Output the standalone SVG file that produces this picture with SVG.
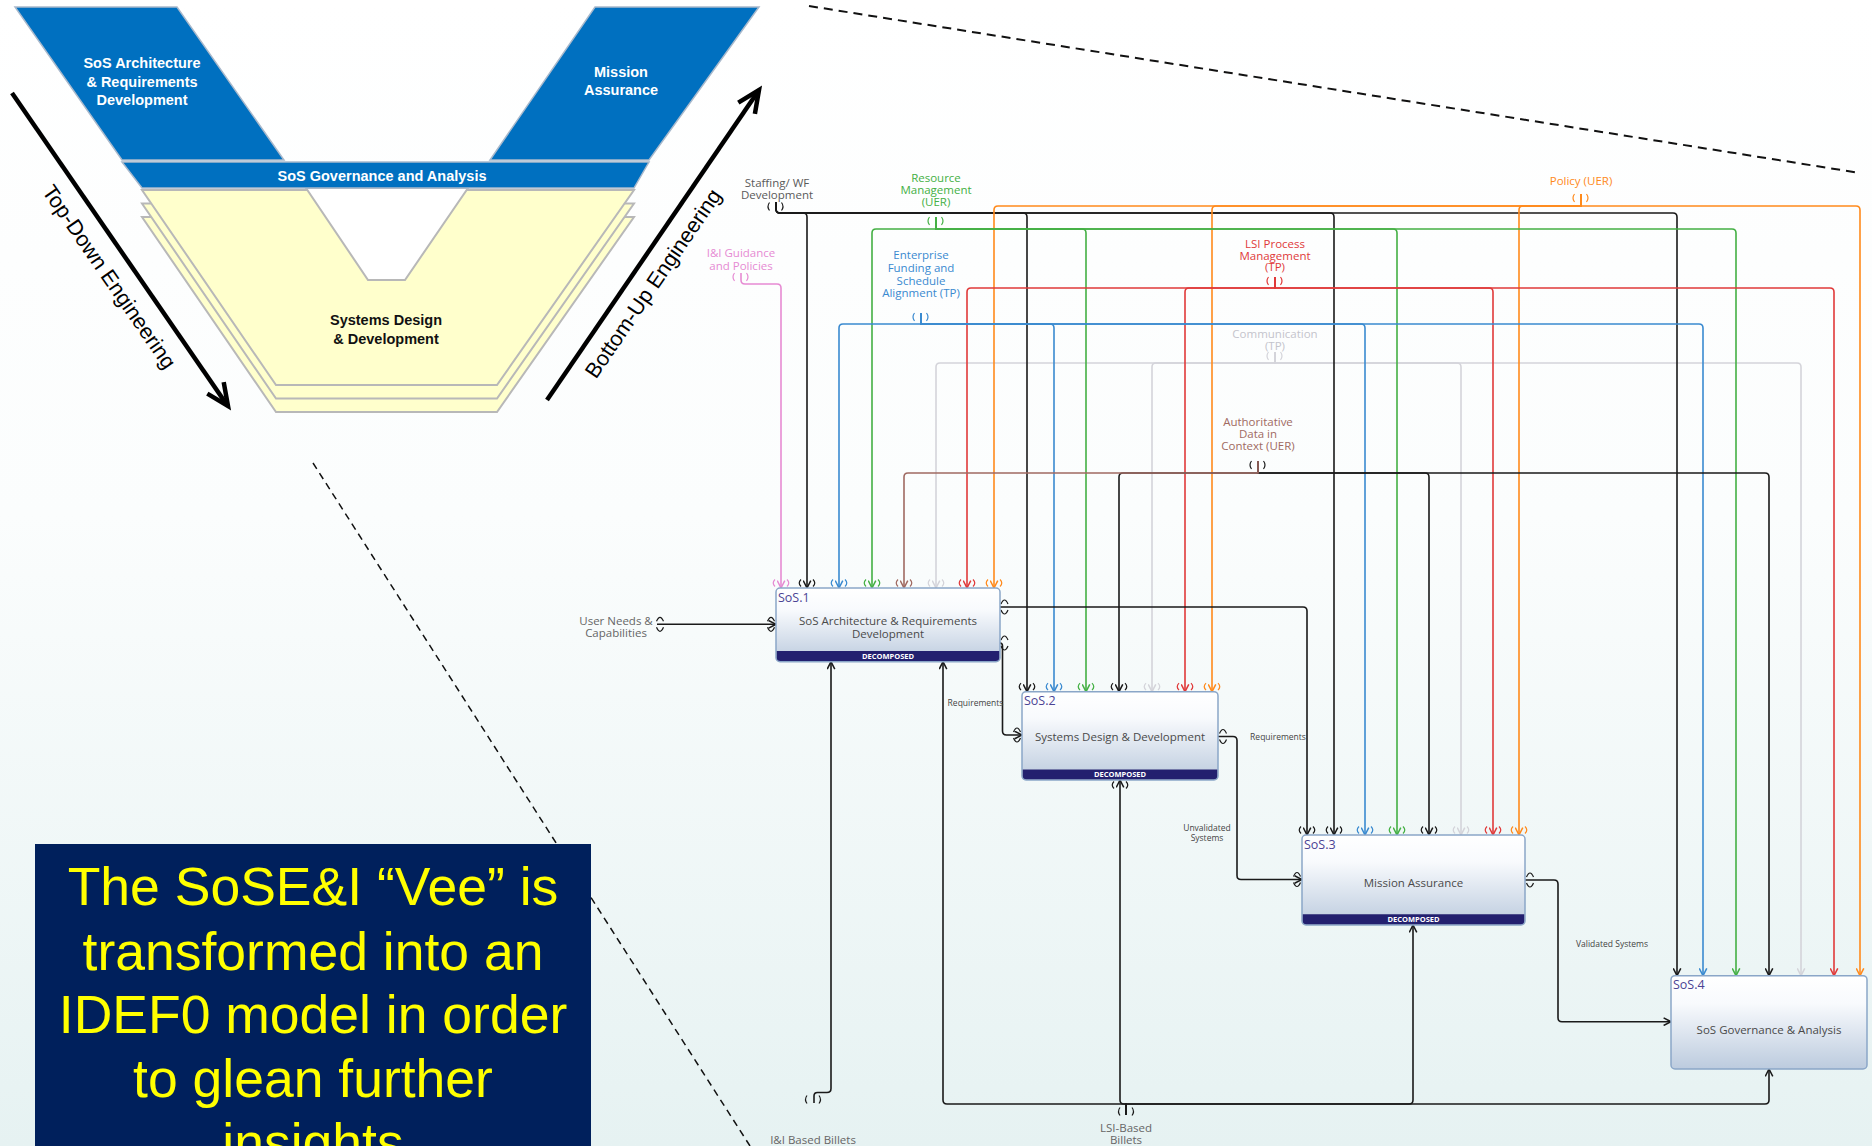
<svg xmlns="http://www.w3.org/2000/svg" xmlns:xlink="http://www.w3.org/1999/xlink" width="1872" height="1146" viewBox="0 0 1872 1146">
<defs>
<linearGradient id="bg" x1="0" y1="0" x2="0" y2="1">
<stop offset="0" stop-color="#ffffff"/><stop offset="0.45" stop-color="#fbfdfd"/><stop offset="1" stop-color="#e6f2f2"/>
</linearGradient>
<linearGradient id="boxg" x1="0" y1="0" x2="0" y2="1">
<stop offset="0" stop-color="#ffffff"/><stop offset="0.3" stop-color="#f8fafd"/><stop offset="1" stop-color="#bccbde"/>
</linearGradient>
<marker id="mk" viewBox="0 0 10 10" refX="9" refY="5" markerWidth="9" markerHeight="9" markerUnits="userSpaceOnUse" orient="auto"><path d="M0.8,0.8 L9,5 L0.8,9.2" fill="none" stroke="#1a1a1a" stroke-width="1.7"/></marker>
<marker id="mp" viewBox="0 0 10 10" refX="9" refY="5" markerWidth="9" markerHeight="9" markerUnits="userSpaceOnUse" orient="auto"><path d="M0.8,0.8 L9,5 L0.8,9.2" fill="none" stroke="#e68bd3" stroke-width="1.7"/></marker>
<marker id="mb" viewBox="0 0 10 10" refX="9" refY="5" markerWidth="9" markerHeight="9" markerUnits="userSpaceOnUse" orient="auto"><path d="M0.8,0.8 L9,5 L0.8,9.2" fill="none" stroke="#3a8ad0" stroke-width="1.7"/></marker>
<marker id="mg" viewBox="0 0 10 10" refX="9" refY="5" markerWidth="9" markerHeight="9" markerUnits="userSpaceOnUse" orient="auto"><path d="M0.8,0.8 L9,5 L0.8,9.2" fill="none" stroke="#44b044" stroke-width="1.7"/></marker>
<marker id="mn" viewBox="0 0 10 10" refX="9" refY="5" markerWidth="9" markerHeight="9" markerUnits="userSpaceOnUse" orient="auto"><path d="M0.8,0.8 L9,5 L0.8,9.2" fill="none" stroke="#a06a62" stroke-width="1.7"/></marker>
<marker id="my" viewBox="0 0 10 10" refX="9" refY="5" markerWidth="9" markerHeight="9" markerUnits="userSpaceOnUse" orient="auto"><path d="M0.8,0.8 L9,5 L0.8,9.2" fill="none" stroke="#d4d4da" stroke-width="1.7"/></marker>
<marker id="mr" viewBox="0 0 10 10" refX="9" refY="5" markerWidth="9" markerHeight="9" markerUnits="userSpaceOnUse" orient="auto"><path d="M0.8,0.8 L9,5 L0.8,9.2" fill="none" stroke="#e03a3a" stroke-width="1.7"/></marker>
<marker id="mo" viewBox="0 0 10 10" refX="9" refY="5" markerWidth="9" markerHeight="9" markerUnits="userSpaceOnUse" orient="auto"><path d="M0.8,0.8 L9,5 L0.8,9.2" fill="none" stroke="#ff8a1c" stroke-width="1.7"/></marker>
<path id="tp" d="M-6,-8.5 Q-9.5,-5 -6,-1.5 M6,-8.5 Q9.5,-5 6,-1.5"/>
<path id="tb" d="M-6,1.5 Q-9.5,5 -6,8.5 M6,1.5 Q9.5,5 6,8.5"/>
<path id="ts" d="M-6.5,-4 Q-9.5,0 -6.5,4 M5.5,-4 Q8.5,0 5.5,4"/>
<path id="th" d="M-3.5,-3 Q0,-11 3.5,-3 M-3.5,3 Q0,11 3.5,3"/>
<style>
.c{fill:none;stroke-width:1.6}
.k{stroke:#1a1a1a}.p{stroke:#e68bd3}.b{stroke:#3a8ad0}.g{stroke:#44b044}.n{stroke:#a06a62}.y{stroke:#d4d4da}.r{stroke:#e03a3a}.o{stroke:#ff8a1c}
.ak{marker-end:url(#mk)}.ap{marker-end:url(#mp)}.ab{marker-end:url(#mb)}.ag{marker-end:url(#mg)}.an{marker-end:url(#mn)}.ay{marker-end:url(#my)}.ar{marker-end:url(#mr)}.ao{marker-end:url(#mo)}
.tun{fill:none;stroke-width:1.2}
.lbl{font-family:"Open Sans","DejaVu Sans",sans-serif;font-size:11.5px;text-anchor:middle}
.sml{font-family:"Open Sans","DejaVu Sans",sans-serif;font-size:8.5px;text-anchor:middle;fill:#444}
.box{fill:url(#boxg);stroke:#8aa6c8;stroke-width:1.5}
.band{fill:#23206f}
.sid{font-family:"Open Sans","DejaVu Sans",sans-serif;font-size:12.5px;fill:#4b4394}
.bt{font-family:"Open Sans","DejaVu Sans",sans-serif;font-size:11.5px;fill:#4a4a4a;text-anchor:middle}
.dec{font-family:"Open Sans","DejaVu Sans",sans-serif;font-size:7.5px;font-weight:bold;fill:#ffffff;text-anchor:middle}
.yl{fill:#ffffcc;stroke:#b8b8b8;stroke-width:2}
.bl{fill:#0070c0;stroke:#a9b9cc;stroke-width:1.5}
.vt{font-family:"Liberation Sans",Arial,sans-serif;font-size:14.5px;font-weight:bold;fill:#ffffff;text-anchor:middle}
.vtk{font-family:"Liberation Sans",Arial,sans-serif;font-size:14.5px;font-weight:bold;fill:#111111;text-anchor:middle}
.eng{font-family:"Liberation Sans",Arial,sans-serif;font-size:21.5px;fill:#000000;text-anchor:middle}
.big{font-family:"Liberation Sans",Arial,sans-serif;font-size:53.5px;fill:#ffff00;text-anchor:middle}
</style>
</defs>
<rect x="0" y="0" width="1872" height="1146" fill="url(#bg)"/>

<g id="vee">
<polygon class="yl" points="142,217 634,217 497,412 276,412"/>
<polygon class="yl" points="142,203.5 634,203.5 497,398.5 276,398.5"/>
<polygon class="yl" points="142,190 634,190 497,385 276,385"/>
<polygon points="306,188 468,188 405,280 368,280" fill="#ffffff" stroke="#b8b8b8" stroke-width="2"/>
<polygon class="bl" points="15,7 177,7 284,160 122,160"/>
<polygon class="bl" points="595,7 759,7 649,160 490,160"/>
<polygon class="bl" points="122,162 649,162 634,188 142,188"/>
<text class="vt" x="142" y="68.3">SoS Architecture</text>
<text class="vt" x="142" y="86.6">&amp; Requirements</text>
<text class="vt" x="142" y="104.9">Development</text>
<text class="vt" x="621" y="77">Mission</text>
<text class="vt" x="621" y="95">Assurance</text>
<text class="vt" x="382" y="180.5">SoS Governance and Analysis</text>
<text class="vtk" x="386" y="325.4">Systems Design</text>
<text class="vtk" x="386" y="343.7">&amp; Development</text>
<path d="M12,93 L225,402" stroke="#000" stroke-width="4.5" fill="none"/>
<path d="M207.3,393.6 L228,406 L223.7,382.2" fill="none" stroke="#000" stroke-width="4.5"/>
<text class="eng" transform="translate(109.4,276.7) rotate(55.4)" x="0" y="7.5">Top-Down Engineering</text>
<path d="M547,400 L757,93" stroke="#000" stroke-width="4.5" fill="none"/>
<path d="M754.9,113.8 L759,90 L738.3,102.6" fill="none" stroke="#000" stroke-width="4.5"/>
<text class="eng" transform="translate(653,283.3) rotate(-55.6)" x="0" y="7.5">Bottom-Up Engineering</text>
</g>

<g id="dashed">
<line x1="809" y1="6" x2="1860" y2="173" stroke="#111" stroke-width="2" stroke-dasharray="9 6"/>
<line x1="313" y1="463" x2="750" y2="1146" stroke="#111" stroke-width="1.5" stroke-dasharray="7 5"/>
</g>

<g id="connectors">
<path class="c y ay" d="M1275,352 V363 H940 Q936,363 936,367 V588"/>
<path class="c y ay" d="M1275,352 V363 H1156 Q1152,363 1152,367 V691.7"/>
<path class="c y ay" d="M1275,352 V363 H1457 Q1461,363 1461,367 V835"/>
<path class="c y ay" d="M1275,352 V363 H1797 Q1801,363 1801,367 V975.7"/>
<path class="c k ak" d="M776,202 V209 Q776,213 780,213 H803 Q807,213 807,217 V588"/>
<path class="c k ak" d="M776,202 V209 Q776,213 780,213 H1023 Q1027,213 1027,217 V691.7"/>
<path class="c k ak" d="M776,202 V209 Q776,213 780,213 H1330 Q1334,213 1334,217 V835"/>
<path class="c k ak" d="M776,202 V209 Q776,213 780,213 H1673 Q1677,213 1677,217 V975.7"/>
<path class="c o ao" d="M1581,194 V206 H998 Q994,206 994,210 V588"/>
<path class="c o ao" d="M1581,194 V206 H1216 Q1212,206 1212,210 V691.7"/>
<path class="c o ao" d="M1581,194 V206 H1523 Q1519,206 1519,210 V835"/>
<path class="c o ao" d="M1581,194 V206 H1856 Q1860,206 1860,210 V975.7"/>
<path class="c g ag" d="M936,217 V229 H876 Q872,229 872,233 V588"/>
<path class="c g ag" d="M936,217 V229 H1082 Q1086,229 1086,233 V691.7"/>
<path class="c g ag" d="M936,217 V229 H1393 Q1397,229 1397,233 V835"/>
<path class="c g ag" d="M936,217 V229 H1732 Q1736,229 1736,233 V975.7"/>
<path class="c p ap" d="M741,273 V280 Q741,284 745,284 H777 Q781,284 781,288 V588"/>
<path class="c r ar" d="M1275,277 V288 H971 Q967,288 967,292 V588"/>
<path class="c r ar" d="M1275,277 V288 H1189 Q1185,288 1185,292 V691.7"/>
<path class="c r ar" d="M1275,277 V288 H1489 Q1493,288 1493,292 V835"/>
<path class="c r ar" d="M1275,277 V288 H1830 Q1834,288 1834,292 V975.7"/>
<path class="c b ab" d="M921,313 V324 H843 Q839,324 839,328 V588"/>
<path class="c b ab" d="M921,313 V324 H1050 Q1054,324 1054,328 V691.7"/>
<path class="c b ab" d="M921,313 V324 H1361 Q1365,324 1365,328 V835"/>
<path class="c b ab" d="M921,313 V324 H1699 Q1703,324 1703,328 V975.7"/>
<path class="c k ak" d="M1258,461 V473 H1123 Q1119,473 1119,477 V691.7"/>
<path class="c k ak" d="M1258,461 V473 H1425 Q1429,473 1429,477 V835"/>
<path class="c k ak" d="M1258,461 V473 H1765 Q1769,473 1769,477 V975.7"/>
<path class="c n an" d="M1258,461 V473 H908 Q904,473 904,477 V588"/>
<path class="c k ak" d="M657,624.3 H776"/>
<path class="c k ak" d="M1000,607 H1303 Q1307,607 1307,611 V835"/>
<path class="c k ak" d="M1000,643 Q1002.5,643 1002.5,646 V731 Q1002.5,735 1006.5,735 H1022"/>
<path class="c k ak" d="M1218,736.5 H1233 Q1237,736.5 1237,740.5 V875.5 Q1237,879.5 1241,879.5 H1302"/>
<path class="c k ak" d="M1525,880 H1554 Q1558,880 1558,884 V1017.7 Q1558,1021.7 1562,1021.7 H1671"/>
<path class="c k ak" d="M814,1103 V1096 Q814,1092.5 817.5,1092.5 H827 Q831,1092.5 831,1088.5 V661.7"/>
<path class="c k ak" d="M1126,1115 V1104 H947 Q943,1104 943,1100 V661.7"/>
<path class="c k ak" d="M1126,1115 V1104 H1124 Q1120,1104 1120,1100 V780"/>
<path class="c k ak" d="M1126,1115 V1104 H1409 Q1413,1104 1413,1100 V925"/>
<path class="c k ak" d="M1126,1115 V1104 H1765 Q1769,1104 1769,1100 V1069"/>

<g class="tun">
<use href="#ts" x="776" y="206.5" stroke="#1a1a1a"/>
<use href="#ts" x="936" y="221" stroke="#44b044"/>
<use href="#ts" x="741" y="277" stroke="#e68bd3"/>
<use href="#ts" x="921" y="317" stroke="#3a8ad0"/>
<use href="#ts" x="1275" y="281" stroke="#e03a3a"/>
<use href="#ts" x="1275" y="356" stroke="#d4d4da"/>
<use href="#ts" x="1581" y="198" stroke="#ff8a1c"/>
<use href="#ts" x="1258" y="465" stroke="#1a1a1a"/>
<use href="#ts" x="813.5" y="1099.5" stroke="#1a1a1a"/>
<use href="#ts" x="1126.5" y="1111.5" stroke="#1a1a1a"/>
<use href="#tp" x="781" y="588" stroke="#e68bd3"/>
<use href="#tp" x="807" y="588" stroke="#1a1a1a"/>
<use href="#tp" x="839" y="588" stroke="#3a8ad0"/>
<use href="#tp" x="872" y="588" stroke="#44b044"/>
<use href="#tp" x="904" y="588" stroke="#a06a62"/>
<use href="#tp" x="936" y="588" stroke="#d4d4da"/>
<use href="#tp" x="967" y="588" stroke="#e03a3a"/>
<use href="#tp" x="994" y="588" stroke="#ff8a1c"/>
<use href="#tp" x="1027" y="691.7" stroke="#1a1a1a"/>
<use href="#tp" x="1054" y="691.7" stroke="#3a8ad0"/>
<use href="#tp" x="1086" y="691.7" stroke="#44b044"/>
<use href="#tp" x="1119" y="691.7" stroke="#1a1a1a"/>
<use href="#tp" x="1152" y="691.7" stroke="#d4d4da"/>
<use href="#tp" x="1185" y="691.7" stroke="#e03a3a"/>
<use href="#tp" x="1212" y="691.7" stroke="#ff8a1c"/>
<use href="#tp" x="1307" y="835" stroke="#1a1a1a"/>
<use href="#tp" x="1334" y="835" stroke="#1a1a1a"/>
<use href="#tp" x="1365" y="835" stroke="#3a8ad0"/>
<use href="#tp" x="1397" y="835" stroke="#44b044"/>
<use href="#tp" x="1429" y="835" stroke="#1a1a1a"/>
<use href="#tp" x="1461" y="835" stroke="#d4d4da"/>
<use href="#tp" x="1493" y="835" stroke="#e03a3a"/>
<use href="#tp" x="1519" y="835" stroke="#ff8a1c"/>
<use href="#tb" x="1120" y="780" stroke="#1a1a1a"/>
<use href="#th" x="660" y="624.3" stroke="#1a1a1a"/>
<use href="#th" x="771" y="624.3" stroke="#1a1a1a"/>
<use href="#th" x="1004.5" y="607" stroke="#1a1a1a"/>
<use href="#th" x="1004.5" y="643" stroke="#1a1a1a"/>
<use href="#th" x="1017" y="735" stroke="#1a1a1a"/>
<use href="#th" x="1223" y="736.5" stroke="#1a1a1a"/>
<use href="#th" x="1297" y="879.5" stroke="#1a1a1a"/>
<use href="#th" x="1530" y="880" stroke="#1a1a1a"/>
</g>

<text class="lbl" fill="#5a5a5a" x="777" y="186.7">Staffing/ WF</text>
<text class="lbl" fill="#5a5a5a" x="777" y="198.5">Development</text>
<text class="lbl" fill="#44b044" x="936" y="181.5">Resource</text>
<text class="lbl" fill="#44b044" x="936" y="193.5">Management</text>
<text class="lbl" fill="#44b044" x="936" y="206">(UER)</text>
<text class="lbl" fill="#e68bd3" x="741" y="257">I&amp;I Guidance</text>
<text class="lbl" fill="#e68bd3" x="741" y="269.5">and Policies</text>
<text class="lbl" fill="#3a8ad0" x="921" y="259">Enterprise</text>
<text class="lbl" fill="#3a8ad0" x="921" y="271.5">Funding and</text>
<text class="lbl" fill="#3a8ad0" x="921" y="284.5">Schedule</text>
<text class="lbl" fill="#3a8ad0" x="921" y="296.5">Alignment (TP)</text>
<text class="lbl" fill="#e03a3a" x="1275" y="247.5">LSI Process</text>
<text class="lbl" fill="#e03a3a" x="1275" y="259.5">Management</text>
<text class="lbl" fill="#e03a3a" x="1275" y="271">(TP)</text>
<text class="lbl" fill="#c4c4cc" x="1275" y="338">Communication</text>
<text class="lbl" fill="#c4c4cc" x="1275" y="349.5">(TP)</text>
<text class="lbl" fill="#ff8a1c" x="1581" y="185">Policy (UER)</text>
<text class="lbl" fill="#a06a62" x="1258" y="425.5">Authoritative</text>
<text class="lbl" fill="#a06a62" x="1258" y="437.5">Data in</text>
<text class="lbl" fill="#a06a62" x="1258" y="449.5">Context (UER)</text>
<text class="lbl" fill="#666666" x="616" y="624.5">User Needs &amp;</text>
<text class="lbl" fill="#666666" x="616" y="636.5">Capabilities</text>
<text class="sml" x="975.5" y="706">Requirements</text>
<text class="sml" x="1278" y="740">Requirements</text>
<text class="sml" x="1207" y="831">Unvalidated</text>
<text class="sml" x="1207" y="841">Systems</text>
<text class="sml" x="1612" y="947">Validated Systems</text>
<text class="lbl" fill="#666666" x="813" y="1144">I&amp;I Based Billets</text>
<text class="lbl" fill="#666666" x="1126" y="1131.5">LSI-Based</text>
<text class="lbl" fill="#666666" x="1126" y="1143.5">Billets</text>
</g>

<g id="sos1">
<rect class="box" x="776" y="588" width="224" height="73.7" rx="4"/>
<path class="band" d="M776.8,651 H999.2 V657.7 Q999.2,661 995.7,661 H780.3 Q776.8,661 776.8,657.7 Z"/>
<text class="sid" x="778" y="602">SoS.1</text>
<text class="bt" x="888" y="625">SoS Architecture &amp; Requirements</text>
<text class="bt" x="888" y="637.5">Development</text>
<text class="dec" x="888" y="659">DECOMPOSED</text>
</g>
<g id="sos2">
<rect class="box" x="1022" y="691.7" width="196" height="88.3" rx="4"/>
<path class="band" d="M1022.8,769.5 H1217.2 V776 Q1217.2,779.3 1213.7,779.3 H1026.3 Q1022.8,779.3 1022.8,776 Z"/>
<text class="sid" x="1024" y="705">SoS.2</text>
<text class="bt" x="1120" y="740.5">Systems Design &amp; Development</text>
<text class="dec" x="1120" y="777.3">DECOMPOSED</text>
</g>
<g id="sos3">
<rect class="box" x="1302" y="835" width="223" height="90" rx="4"/>
<path class="band" d="M1302.8,914.2 H1524.2 V921 Q1524.2,924.3 1520.7,924.3 H1306.3 Q1302.8,924.3 1302.8,921 Z"/>
<text class="sid" x="1304" y="848.5">SoS.3</text>
<text class="bt" x="1413.5" y="886.5">Mission Assurance</text>
<text class="dec" x="1413.5" y="922">DECOMPOSED</text>
</g>
<g id="sos4">
<rect class="box" x="1671" y="975.7" width="196" height="93.3" rx="4"/>
<text class="sid" x="1673" y="989">SoS.4</text>
<text class="bt" x="1769" y="1034">SoS Governance &amp; Analysis</text>
</g>

<g id="callout">
<rect x="35" y="844" width="556" height="310" fill="#00205c"/>
<text class="big" x="313" y="905">The SoSE&amp;I “Vee” is</text>
<text class="big" x="313" y="969.5">transformed into an</text>
<text class="big" x="313" y="1033">IDEF0 model in order</text>
<text class="big" x="313" y="1097">to glean further</text>
<text class="big" x="313" y="1161">insights</text>
</g>
</svg>
